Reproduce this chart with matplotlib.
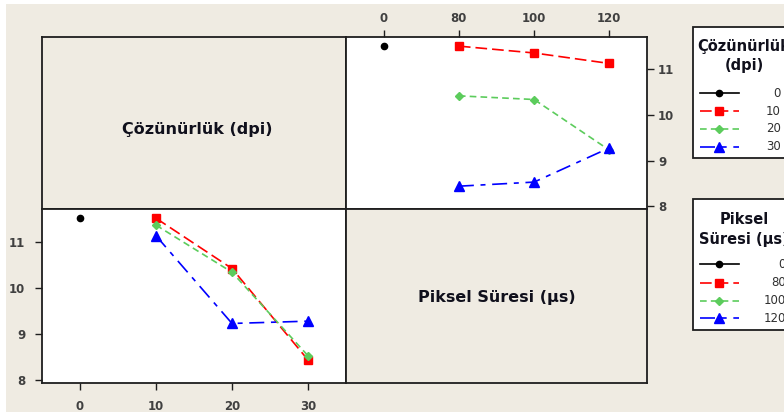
import numpy as np
import matplotlib
matplotlib.use("Agg")
import matplotlib.pyplot as plt
from matplotlib.patches import Rectangle

# Interaction plot data (mean response)
dpi_levels = ["0", "10", "20", "30"]
us_levels = ["0", "80", "100", "120"]
# rows = resolution (dpi), columns = pixel time (us)
res_0 = [11.51, np.nan, np.nan, np.nan]
res_10 = [np.nan, 11.51, 11.36, 11.13]
res_20 = [np.nan, 10.42, 10.34, 9.23]
res_30 = [np.nan, 8.44, 8.53, 9.28]
y_ticks = [8, 9, 10, 11]

W, H = 784, 412
BG = "#efebe2"
EDGE = "#1e1e1e"
TICK_COL = "#404040"
TXT = "#10101c"

styles = [
    dict(color="black", marker="o", ms=4.5, ls="-"),
    dict(color="#ff0000", marker="s", ms=5.5, ls=(0, (7, 3))),
    dict(color="#5ccc5c", marker="D", ms=4.5, ls=(0, (4, 2.5))),
    dict(color="#0000ff", marker="^", ms=6.5, ls=(0, (9, 4, 3, 4))),
]

fig = plt.figure(figsize=(W / 100, H / 100), dpi=100, facecolor=BG)


def px_axes(x0, y0, x1, y1, **kw):
    return fig.add_axes([x0 / W, 1 - y1 / H, (x1 - x0) / W, (y1 - y0) / H], **kw)


ax_tl = px_axes(42, 37, 346, 209, facecolor=BG)
ax_tr = px_axes(346, 37, 647, 209, facecolor="white")
ax_bl = px_axes(42, 209, 346, 383, facecolor="white")
ax_br = px_axes(346, 209, 647, 383, facecolor=BG)

for ax in (ax_tl, ax_tr, ax_bl, ax_br):
    for sp in ax.spines.values():
        sp.set_color(EDGE)
        sp.set_linewidth(1.3)

for ax in (ax_tl, ax_br):
    ax.set_xticks([])
    ax.set_yticks([])

ax_tl.text(0.51, 0.46, "Çözünürlük (dpi)", transform=ax_tl.transAxes, color=TXT,
           ha="center", va="center", fontsize=11.5, fontweight="bold")
ax_br.text(0.5, 0.49, "Piksel Süresi (µs)", transform=ax_br.transAxes, color=TXT,
           ha="center", va="center", fontsize=11.5, fontweight="bold")

table = np.array([res_0, res_10, res_20, res_30])
xpos = np.arange(4)

# top right: x = pixel time, one line per resolution
for i, st in enumerate(styles):
    ax_tr.plot(xpos, table[i], lw=1.2, mec=st["color"], **st)
# bottom left: x = resolution, one line per pixel time
for j, st in enumerate(styles):
    ax_bl.plot(xpos, table[:, j], lw=1.2, mec=st["color"], **st)

for ax, labels in ((ax_tr, us_levels), (ax_bl, dpi_levels)):
    ax.set_xlim(-0.5, 3.5)
    ax.set_ylim(7.94, 11.71)
    ax.set_xticks(xpos)
    ax.set_xticklabels(labels)
    ax.set_yticks(y_ticks)

ax_tr.xaxis.tick_top()
ax_tr.yaxis.tick_right()
ax_tr.tick_params(axis="x", direction="out", length=5, width=1, pad=4,
                  labelsize=8.5, labelcolor=TICK_COL, color=EDGE)
ax_tr.tick_params(axis="y", direction="out", length=5, width=1, pad=3,
                  labelsize=8.5, labelcolor=TICK_COL, color=EDGE)
ax_bl.tick_params(axis="x", direction="out", length=5, width=1, pad=7,
                  labelsize=8.5, labelcolor=TICK_COL, color=EDGE)
ax_bl.tick_params(axis="y", direction="out", length=5, width=1, pad=7,
                  labelsize=8.5, labelcolor=TICK_COL, color=EDGE)

for ax in (ax_tr, ax_bl):
    for t in ax.xaxis.get_major_ticks() + ax.yaxis.get_major_ticks():
        t.label1.set_fontweight("bold")
        t.label2.set_fontweight("bold")

# overlay in pixel coordinates for the legend boxes
ov = fig.add_axes([0, 0, 1, 1], facecolor="none")
ov.set_xlim(0, W)
ov.set_ylim(H, 0)
ov.axis("off")


def legend_box(top, bottom, title_lines, title_ys, labels, entry_ys, label_x):
    ov.add_patch(Rectangle((693, top), 120, bottom - top, facecolor="white",
                           edgecolor=EDGE, lw=1.3))
    for t, ty in zip(title_lines, title_ys):
        ov.text(744, ty, t, ha="center", va="center", fontsize=10.5,
                fontweight="bold", color=TXT)
    for st, lab, ey in zip(styles, labels, entry_ys):
        ov.plot([700, 739], [ey, ey], color=st["color"], ls=st["ls"], lw=1.2)
        ov.plot([719], [ey], color=st["color"], marker=st["marker"], ms=st["ms"], ls="none")
        ov.text(label_x, ey, lab, ha="right", va="center", fontsize=8.5, color="#303030")


legend_box(27, 158, ["Çözünürlük", "(dpi)"], [46, 65], dpi_levels,
           [93, 111, 129, 147], 781)
legend_box(199, 330, ["Piksel", "Süresi (µs)"], [219, 239], us_levels,
           [264, 283, 301, 318], 786)

# light strip at the very top/left edge
ov.add_patch(Rectangle((0, 0), W, 4, facecolor="white", edgecolor="none"))
ov.add_patch(Rectangle((0, 0), 6, H, facecolor="white", edgecolor="none"))

fig.savefig("out.png", dpi=100, facecolor=BG)
